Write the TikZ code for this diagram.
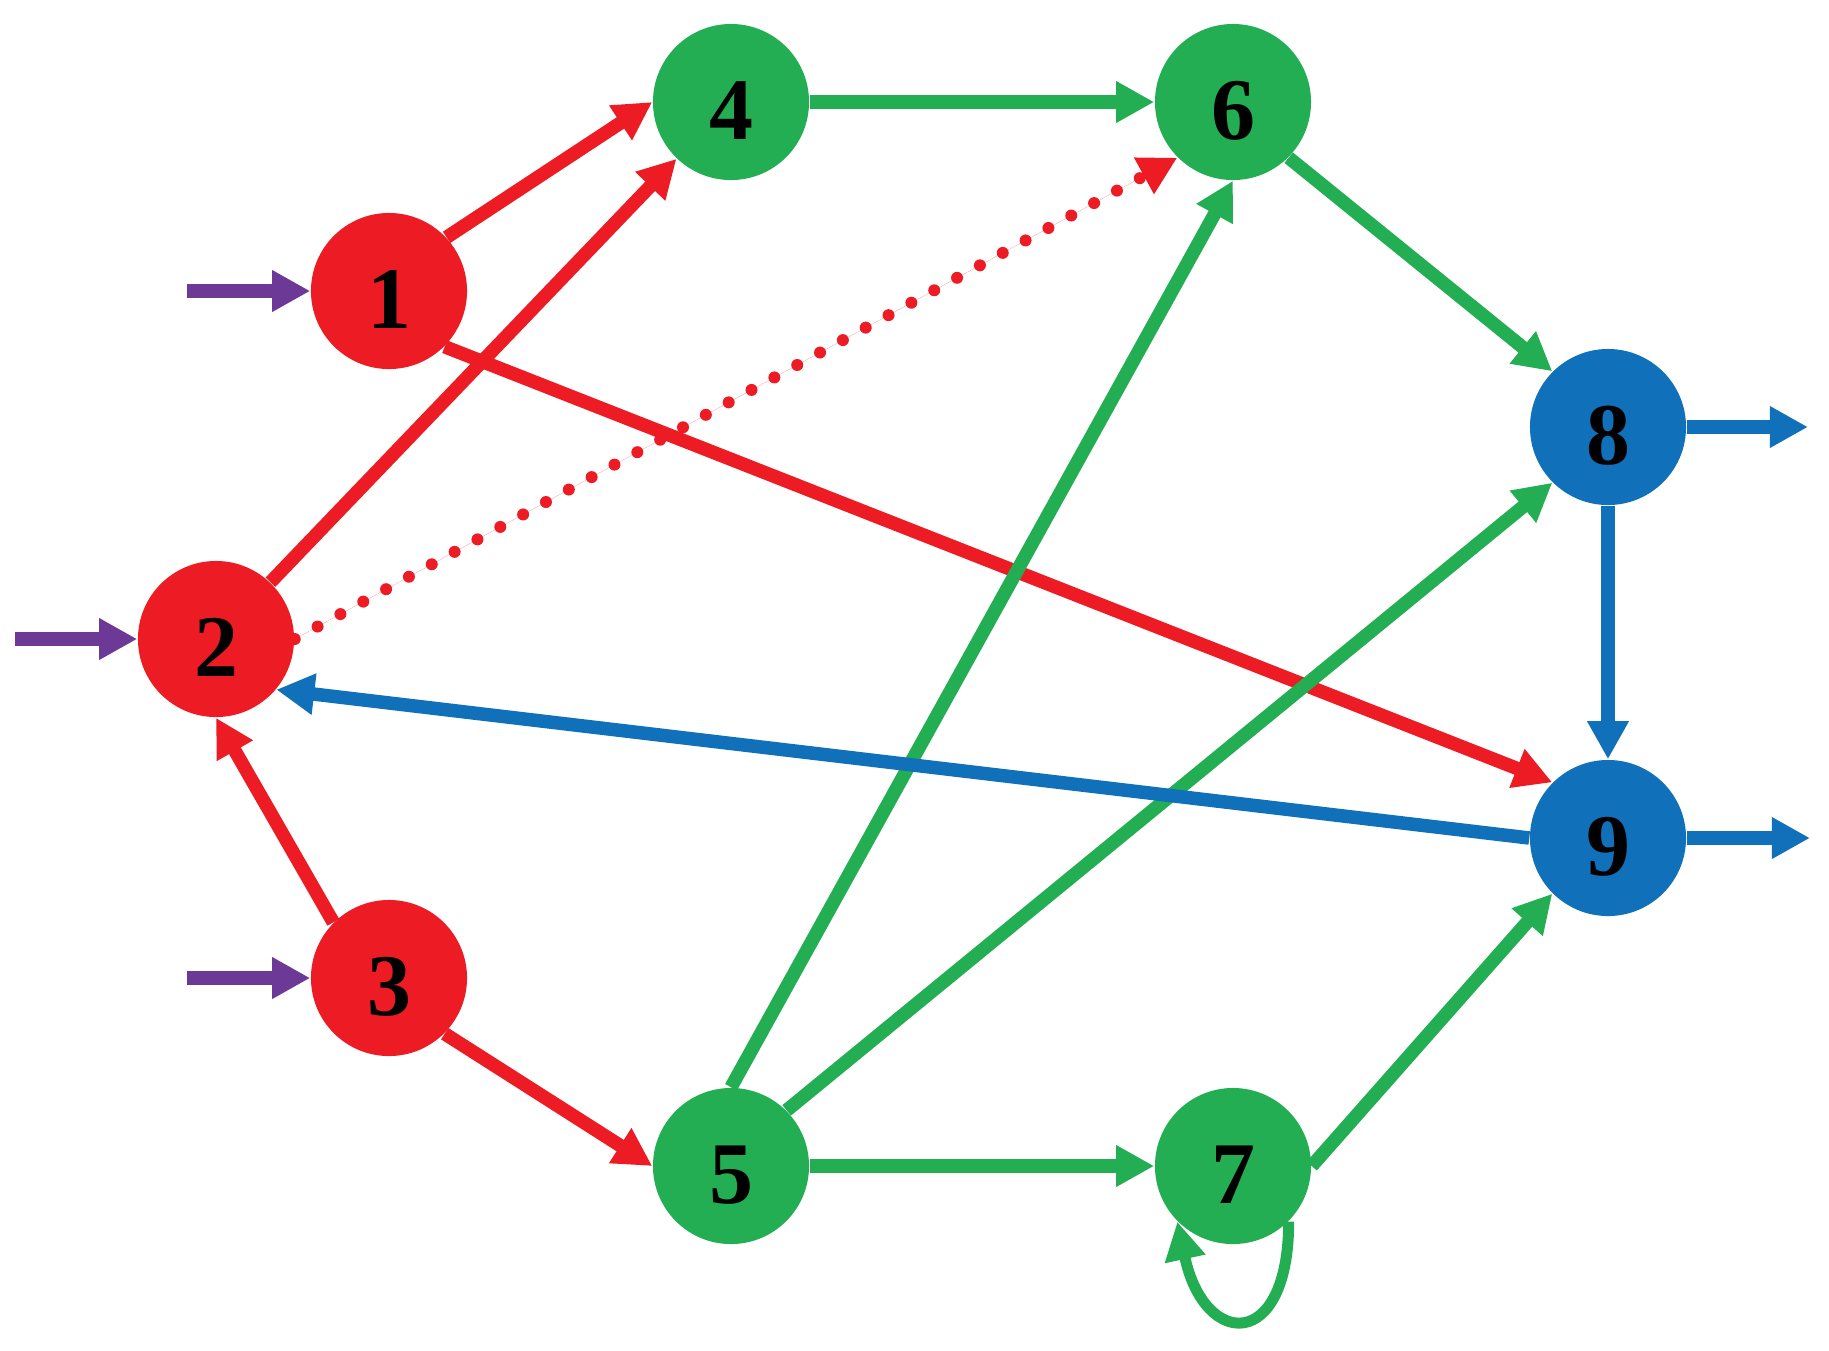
\documentclass[tikz,border=0pt]{standalone}
\usepackage{fontspec}
\setmainfont{Liberation Serif}
\usetikzlibrary{arrows.meta}
\definecolor{cred}{RGB}{237,28,36}
\definecolor{cgreen}{RGB}{36,174,84}
\definecolor{cblue}{RGB}{16,112,185}
\definecolor{cpurple}{RGB}{108,58,150}
\begin{document}
\begin{tikzpicture}[x=0.01cm,y=-0.01cm,
  state/.style={circle, minimum size=1.56cm, inner sep=0pt, text height=0.74cm, text depth=0pt,
    font=\fontsize{25}{30}\selectfont\bfseries, text=black},
  rstate/.style={state, fill=cred},
  gstate/.style={state, fill=cgreen},
  bstate/.style={state, fill=cblue},
  arrowline/.style={line width=0.135cm, -{Triangle[length=0.38cm,width=0.39cm]}},
  redge/.style={arrowline, draw=cred, fill=cred},
  gedge/.style={arrowline, draw=cgreen, fill=cgreen},
  bedge/.style={arrowline, draw=cblue, fill=cblue},
  pedge/.style={arrowline, draw=cpurple, fill=cpurple},
  dotedge/.style={redge, line width=0.12cm, line cap=round, dash pattern=on 0pt off 0.26cm},
]
\useasboundingbox (0,0) rectangle (1829,1350);

\node[rstate] (n1) at (389,291) {1};
\node[rstate] (n2) at (216,639) {2};
\node[rstate] (n3) at (389,978) {3};
\node[gstate] (n4) at (731,102) {4};
\node[gstate] (n5) at (731,1166) {5};
\node[gstate] (n6) at (1233,102) {6};
\node[gstate] (n7) at (1233,1166) {7};
\node[bstate] (n8) at (1608,427) {8};
\node[bstate] (n9) at (1608,838) {9};

\coordinate (i1) at (187,291);
\coordinate (i2) at (15,639);
\coordinate (i3) at (187,978);
\coordinate (o8) at (1808,427);
\coordinate (o9) at (1810,838);

% inputs
\draw[pedge] (i1) -- (n1.west);
\draw[pedge] (i2) -- (n2.west);
\draw[pedge] (i3) -- (n3.west);

% red edges
\draw[redge] (n1.43) -- (n4.west);
\draw[redge] (n2) -- (n4);
\draw[redge] (n1.-45) -- (n9.135);
\draw[redge] (n3.135) -- (n2.south);
\draw[redge] (n3.-45) -- (n5.west);
\draw[dotedge] (n2.east) -- (n6.225);

% green edges
\draw[gedge] (n4.east) -- (n6.west);
\draw[gedge] (n5.north) -- (n6.south);
\draw[gedge] (n5.45) -- (n8.225);
\draw[gedge] (n5.east) -- (n7.west);
\draw[gedge] (n6.-45) -- (n8.135);
\draw[gedge] (n7.east) -- (n9.225);
\draw[gedge, fill=none, line width=0.11cm] (n7.-45) to[out=-90, in=-78, looseness=3] (n7.-135);

% blue edges
\draw[bedge] (n8.south) -- (n9.north);
\draw[bedge] (n9.west) -- (n2.-40);
\draw[bedge] (n8.east) -- (o8);
\draw[bedge] (n9.east) -- (o9);
\end{tikzpicture}
\end{document}
